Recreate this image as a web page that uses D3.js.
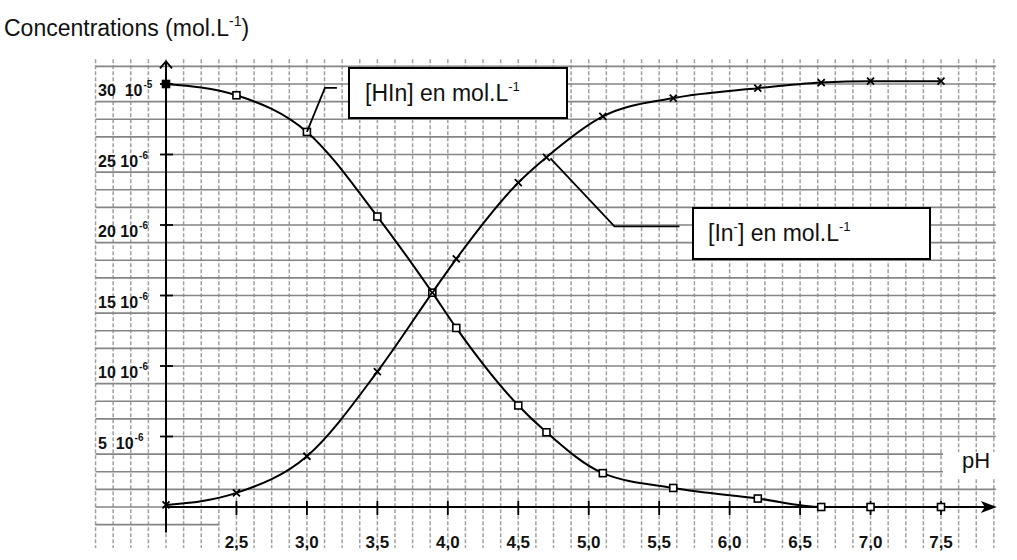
<!DOCTYPE html>
<html>
<head>
<meta charset="utf-8">
<script src="https://cdn.jsdelivr.net/npm/d3@7"></script>
<style>
  html, body { margin: 0; padding: 0; background: #fff; }
  svg { display: block; font-family: "Liberation Sans", Arial, sans-serif; }
</style>
</head>
<body>
<svg id="chart" width="1017" height="560"></svg>
<script>
// ---- data (concentrations in units of 1e-6 mol/L) ----
const pH      = [2.0, 2.5, 3.0, 3.5, 3.89, 4.06, 4.5, 4.7, 5.1, 5.6, 6.2, 6.65, 7.0, 7.5];
const HIn     = [30.0, 29.2, 26.6, 20.6, 15.2, 12.7, 7.2, 5.3, 2.4, 1.35, 0.6, 0.0, 0.0, 0.0];
const InMinus = [0.15, 1.0, 3.6, 9.6, 15.2, 17.6, 23.0, 24.8, 27.7, 29.0, 29.7, 30.1, 30.2, 30.2];
const xTicks  = [2.5, 3.0, 3.5, 4.0, 4.5, 5.0, 5.5, 6.0, 6.5, 7.0, 7.5];
const xTickLabels = ["2,5", "3,0", "3,5", "4,0", "4,5", "5,0", "5,5", "6,0", "6,5", "7,0", "7,5"];
const yTicks  = [5, 10, 15, 20, 25, 30];
const yTickLabels = [["5  10", "-6"], ["10 10", "-6"], ["15 10", "-6"], ["20 10", "-6"], ["25 10", "-6"], ["30  10", "-5"]];
const yTitle = "Concentrations (mol.L";
const xTitle = "pH";
const legendHIn = "[HIn] en mol.L";
const legendIn = ["[In", "-", "] en mol.L", "-1"];

const svg = d3.select("#chart");
const x = d3.scaleLinear().domain([2, 7.5]).range([166, 941]);
const y = d3.scaleLinear().domain([0, 30]).range([507, 84]);

const gridStep = 0.125;   // pH per vertical grid line
const gridStepY = 1.25;   // concentration per horizontal grid line
const xLeft = x(2 - 4 * gridStep);
const xRight = x(2 + 47 * gridStep) + 2;

// ---- vertical grid (light, dashed) ----
const vLines = d3.range(-4, 48).map(k => 2 + k * gridStep);
svg.append("g").selectAll("line").data(vLines).join("line")
  .attr("x1", d => x(d)).attr("x2", d => x(d))
  .attr("y1", y(31.75)).attr("y2", y(-2.9))
  .attr("stroke", "#a0a0a0").attr("stroke-width", 1.5)
  .attr("stroke-dasharray", "4,2");

// ---- horizontal grid ----
const hLines = d3.range(-1, 26).map(k => k * gridStepY).filter(v => v !== 0);
svg.append("g").selectAll("line").data(hLines).join("line")
  .attr("x1", d => (d % 5 === 0) ? x(2) : xLeft)
  .attr("x2", d => d < 0 ? x(2.25) + 18 : (d === 2.5 || d === 3.75) ? x(7.5) + 2 : xRight)
  .attr("y1", d => y(d)).attr("y2", d => y(d))
  .attr("stroke", "#858585").attr("stroke-width", 1.7);

// ---- axes ----
const axes = svg.append("g").attr("stroke", "#000");
axes.append("line").attr("x1", xLeft).attr("x2", x(2)).attr("y1", y(0)).attr("y2", y(0))
  .attr("stroke", "#858585").attr("stroke-width", 1.7);
axes.append("line").attr("x1", x(2)).attr("x2", xRight - 2).attr("y1", y(0)).attr("y2", y(0))
  .attr("stroke-width", 2);
axes.append("path")
  .attr("d", `M${xRight + 1},${y(0)} L${xRight - 15},${y(0) - 6} L${xRight - 11},${y(0)} L${xRight - 15},${y(0) + 6} Z`)
  .attr("fill", "#000").attr("stroke", "none");
axes.append("line").attr("x1", x(2)).attr("x2", x(2)).attr("y1", y(-1.8)).attr("y2", y(31.6))
  .attr("stroke-width", 2);
axes.append("path")
  .attr("d", `M${x(2) - 6},${y(31.6) + 7} L${x(2)},${y(31.6)} L${x(2) + 6},${y(31.6) + 7}`)
  .attr("fill", "none").attr("stroke-width", 1.8);

// x ticks
axes.append("g").selectAll("line").data(xTicks).join("line")
  .attr("x1", d => x(d)).attr("x2", d => x(d))
  .attr("y1", y(0) - 6).attr("y2", y(0) + 8).attr("stroke-width", 1.8);
svg.append("g").selectAll("text").data(xTicks).join("text")
  .attr("x", d => x(d)).attr("y", y(0) + 41)
  .attr("text-anchor", "middle").attr("font-size", 17).attr("font-weight", "bold")
  .attr("fill", "#111")
  .text((d, i) => xTickLabels[i]);

// y ticks
axes.append("g").selectAll("line").data(yTicks).join("line")
  .attr("x1", x(2) - 6).attr("x2", x(2) + 7)
  .attr("y1", d => y(d)).attr("y2", d => y(d)).attr("stroke-width", 1.8);
const yl = svg.append("g").selectAll("text").data(yTicks).join("text")
  .attr("x", 98).attr("y", d => y(d) + 12)
  .attr("font-size", 16).attr("font-weight", "bold").attr("fill", "#111")
  .attr("xml:space", "preserve").style("white-space", "pre");
yl.append("tspan").text((d, i) => yTickLabels[i][0]);
yl.append("tspan").attr("dy", -8).attr("dx", 1).attr("font-size", 10)
  .text((d, i) => yTickLabels[i][1]);

// ---- curves ----
const line = d3.line().curve(d3.curveMonotoneX).x(d => x(d[0])).y(d => y(d[1]));
const hinData = pH.map((p, i) => [p, HIn[i]]);
const inData = pH.map((p, i) => [p, InMinus[i]]);
svg.append("path").datum(hinData).attr("d", line)
  .attr("fill", "none").attr("stroke", "#000").attr("stroke-width", 2);
svg.append("path").datum(inData).attr("d", line)
  .attr("fill", "none").attr("stroke", "#000").attr("stroke-width", 2);

// markers
svg.append("g").selectAll("rect").data(hinData).join("rect")
  .attr("x", d => x(d[0]) - 3.5).attr("y", d => y(d[1]) - 3.5)
  .attr("width", 7).attr("height", 7)
  .attr("fill", (d, i) => i === 0 ? "#000" : "#fff")
  .attr("stroke", "#000").attr("stroke-width", 1.6);
svg.append("g").selectAll("path").data(inData).join("path")
  .attr("d", d => { const cx = x(d[0]), cy = y(d[1]);
    return `M${cx - 3.5},${cy - 3.5}L${cx + 3.5},${cy + 3.5}M${cx - 3.5},${cy + 3.5}L${cx + 3.5},${cy - 3.5}`; })
  .attr("stroke", "#000").attr("stroke-width", 1.8);

// ---- legend callouts ----
const p1 = hinData[2];
svg.append("path")
  .attr("d", `M${x(p1[0])},${y(p1[1])} L${x(p1[0]) + 18},${y(p1[1]) - 44} L${x(p1[0]) + 30},${y(p1[1]) - 44}`)
  .attr("fill", "none").attr("stroke", "#000").attr("stroke-width", 1.8);
svg.append("rect").attr("x", 349).attr("y", 68).attr("width", 218).attr("height", 50)
  .attr("fill", "#fff").attr("stroke", "#000").attr("stroke-width", 2);
const t1 = svg.append("text").attr("x", 365).attr("y", 101).attr("font-size", 23).attr("fill", "#111");
t1.append("tspan").text(legendHIn);
t1.append("tspan").attr("dy", -10).attr("font-size", 13).text("-1");

const p2 = inData[7];
svg.append("path")
  .attr("d", `M${x(p2[0]) + 4},${y(p2[1]) + 1} L${x(p2[0]) + 68},${y(p2[1]) + 69} L${x(p2[0]) + 133},${y(p2[1]) + 69}`)
  .attr("fill", "none").attr("stroke", "#000").attr("stroke-width", 1.8);
svg.append("rect").attr("x", 693).attr("y", 208).attr("width", 237).attr("height", 51)
  .attr("fill", "#fff").attr("stroke", "#000").attr("stroke-width", 2);
const t2 = svg.append("text").attr("x", 708).attr("y", 241).attr("font-size", 23).attr("fill", "#111");
t2.append("tspan").text(legendIn[0]);
t2.append("tspan").attr("dy", -10).attr("font-size", 13).text(legendIn[1]);
t2.append("tspan").attr("dy", 10).text(legendIn[2]);
t2.append("tspan").attr("dy", -10).attr("font-size", 13).text(legendIn[3]);

// ---- titles ----
svg.append("rect").attr("x", x(7.5) + 14).attr("y", y(3.9)).attr("width", 40).attr("height", 26).attr("fill", "#fff");
svg.append("text").attr("x", 962).attr("y", 468).attr("font-size", 22).attr("fill", "#111").text(xTitle);
const tt = svg.append("text").attr("x", 4).attr("y", 36).attr("font-size", 23).attr("fill", "#111");
tt.append("tspan").text(yTitle);
tt.append("tspan").attr("dy", -10).attr("font-size", 14).text("-1");
tt.append("tspan").attr("dy", 10).text(")");
</script>
</body>
</html>
